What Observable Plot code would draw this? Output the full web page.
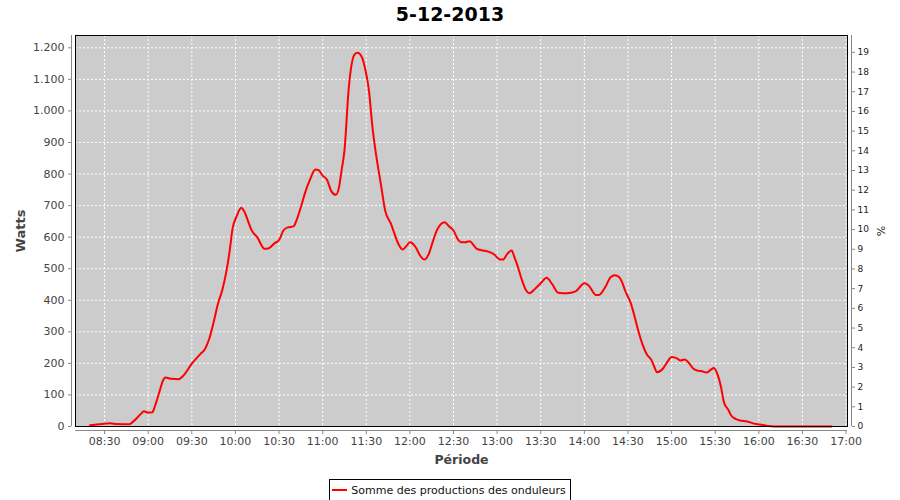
<!DOCTYPE html>
<html><head><meta charset="utf-8">
<script src="https://cdn.jsdelivr.net/npm/d3@7"></script>
<script src="https://cdn.jsdelivr.net/npm/@observablehq/plot@0.6"></script>
<style>
body{margin:0;background:#fff;width:900px;height:500px;overflow:hidden;font-family:"DejaVu Sans",sans-serif;}
#title{height:28px;line-height:28px;text-align:center;font-weight:bold;font-size:19px;color:#000;}
#chart svg{display:block;}
#legend{text-align:center;height:24px;}
#legend .box{display:inline-flex;align-items:center;box-sizing:border-box;height:22px;border:1px solid #000;padding:0 4px 0 2px;font-size:11px;color:#111;}
#legend .sw{display:inline-block;width:15px;height:2px;background:#ff0000;margin-right:4px;}
</style></head><body>
<div id="title">5-12-2013</div>
<div id="chart"></div>
<div id="legend"><div class="box"><span class="sw"></span>Somme des productions des onduleurs</div></div>
<script>
const times = ["08:20","08:26","08:34","08:38","08:47","08:50","08:55","08:57","09:00","09:03","09:04","09:08","09:10","09:12","09:16","09:21","09:24","09:30","09:36","09:39","09:42","09:45","09:48","09:51","09:54","09:56","09:58","10:01","10:04","10:06","10:09","10:11","10:15","10:20","10:23","10:27","10:30","10:33","10:36","10:40","10:42","10:45","10:48","10:51","10:55","10:57","11:00","11:03","11:06","11:09","11:11","11:13","11:15","11:18","11:20","11:22","11:24","11:27","11:29","11:32","11:34","11:36","11:40","11:43","11:47","11:49","11:52","11:55","11:58","12:00","12:04","12:07","12:10","12:13","12:16","12:19","12:24","12:27","12:30","12:33","12:35","12:38","12:41","12:46","12:50","12:54","12:58","13:02","13:04","13:07","13:10","13:12","13:14","13:17","13:20","13:22","13:26","13:30","13:34","13:38","13:42","13:48","13:54","14:00","14:03","14:08","14:10","14:15","14:18","14:21","14:24","14:26","14:28","14:32","14:34","14:37","14:40","14:43","14:46","14:48","14:50","14:54","14:57","15:00","15:04","15:06","15:09","15:12","15:15","15:18","15:21","15:24","15:27","15:29","15:31","15:34","15:36","15:39","15:41","15:44","15:47","15:52","15:56","16:01","16:06","16:10","16:50"];
const watts = [4,7,10,8,7,17,40,48,44,45,56,114,144,155,151,150,160,199,230,245,278,330,389,433,497,555,626,668,693,682,647,623,600,563,565,581,591,621,631,634,653,695,742,779,814,813,795,782,745,734,753,811,875,1075,1149,1179,1184,1170,1138,1059,959,885,769,684,642,616,579,561,574,584,568,542,529,547,589,626,647,634,621,593,584,584,587,563,558,554,545,529,529,547,558,535,510,465,431,422,436,454,471,450,424,422,428,454,447,417,417,447,473,479,473,457,431,390,358,305,260,228,212,190,172,183,204,220,215,209,212,201,183,177,175,171,180,185,172,125,77,53,35,24,19,16,10,6,2,0,0];
const xTickLabels = ["08:30","09:00","09:30","10:00","10:30","11:00","11:30","12:00","12:30","13:00","13:30","14:00","14:30","15:00","15:30","16:00","16:30","17:00"];
const wattTicks = [0,100,200,300,400,500,600,700,800,900,1000,1100,1200];
const pctTicks = [0,1,2,3,4,5,6,7,8,9,10,11,12,13,14,15,16,17,18,19];
const xDomain = ["08:10","17:01"];
const yDomain = [0,1239];
const wattsPerPct = 62.4;

const parse = s => { const [h,m] = s.split(":").map(Number); return new Date(Date.UTC(2013,11,5,h,m)); };
const data = times.map((t,i) => ({date: parse(t), w: watts[i]}));
const xTicks = xTickLabels.map(parse);
const fmtW = d => d3.format(",")(d).replace(/,/g, ".");
const grid = {stroke: "white", strokeOpacity: 1, strokeDasharray: "2,2"};
const x0 = parse(xDomain[0]), x1 = parse(xDomain[1]);

const chart = Plot.plot({
  width: 900, height: 448,
  marginTop: 7, marginBottom: 50, marginLeft: 75, marginRight: 53,
  style: {fontFamily: "DejaVu Sans", fontSize: "11px", color: "#444", background: "white", overflow: "visible"},
  x: {type: "utc", domain: [x0, x1]},
  y: {domain: yDomain},
  marks: [
    Plot.frame({fill: "#cccccc", stroke: null}),
    Plot.gridX(xTicks, grid),
    Plot.gridY(wattTicks, grid),
    Plot.line(data, {x: "date", y: "w", stroke: "#ff0000", strokeWidth: 2, curve: "monotone-x"}),
    Plot.frame({stroke: "#000"}),
    Plot.ruleX([x0], {dx: -4, stroke: "#888"}),
    Plot.ruleX([x1], {dx: 4, stroke: "#888"}),
    Plot.ruleY([0], {dy: 4, stroke: "#888"}),
    Plot.axisX(xTicks, {anchor: "bottom", tickFormat: d3.utcFormat("%H:%M"), tickSize: 4, tickPadding: 3, dy: 4, stroke: "#888", fill: "#444", label: null}),
    Plot.axisY(wattTicks, {anchor: "left", tickFormat: fmtW, tickSize: 3, tickPadding: 4, dx: -4, stroke: "#888", fill: "#444", label: null}),
    Plot.axisY(pctTicks.map(p => p * wattsPerPct), {anchor: "right", tickFormat: d => String(Math.round(d / wattsPerPct)), tickSize: 3, tickPadding: 3, dx: 4, stroke: "#888", fill: "#222", fontSize: 9, label: null}),
    Plot.text(["Watts"], {frameAnchor: "left", dx: -55, rotate: -90, textAnchor: "middle", lineAnchor: "middle", text: d => d, fontWeight: "bold", fontSize: 13, fill: "#444"}),
    Plot.text(["Période"], {frameAnchor: "bottom", dy: 33, textAnchor: "middle", lineAnchor: "middle", text: d => d, fontWeight: "bold", fontSize: 12.5, fill: "#444"}),
    Plot.text(["%"], {frameAnchor: "right", dx: 34, rotate: -90, textAnchor: "middle", lineAnchor: "middle", text: d => d, fontSize: 11, fill: "#222"})
  ]
});
document.getElementById("chart").appendChild(chart);
</script>
</body></html>
